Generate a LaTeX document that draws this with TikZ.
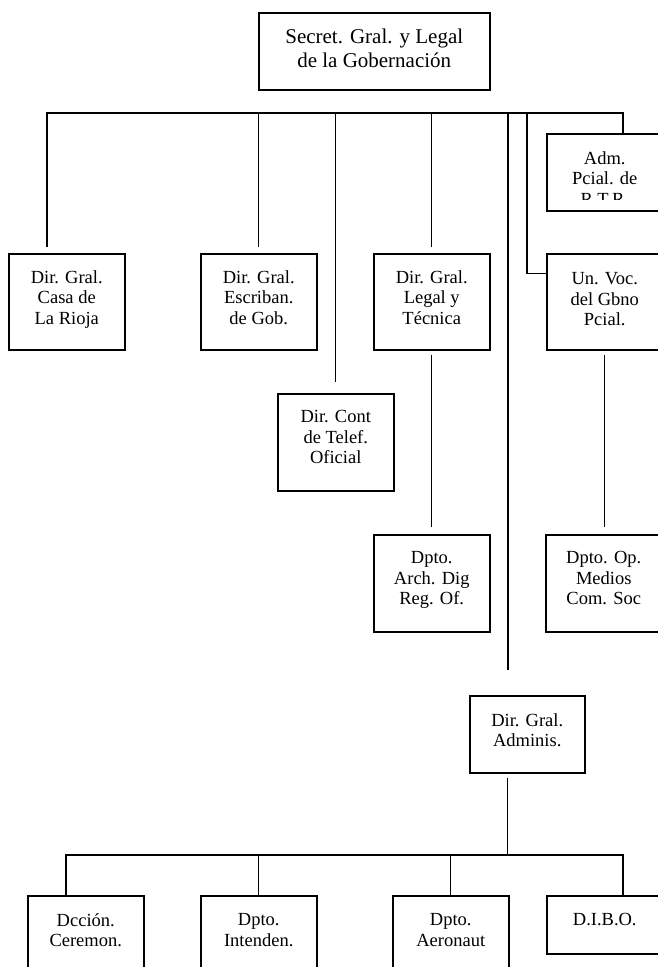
\documentclass[tikz,border=0pt]{standalone}
\usepackage{fontspec}
\setmainfont{Liberation Serif}
\begin{document}
\begin{tikzpicture}[x=1pt,y=-1pt,
  box/.style={draw, line width=1.5pt, inner sep=0pt, anchor=north west, minimum width=116pt, minimum height=96pt},
  lbl/.style={anchor=north, inner sep=0pt, align=center, font=\fontsize{18.5}{20.7}\selectfont},
  toplbl/.style={lbl, font=\fontsize{21}{24}\selectfont},
  conn/.style={line width=1.4pt}]
\useasboundingbox (0,0) rectangle (658,967);
\clip (0,0) rectangle (658,967);

% boxes
\node[box, minimum width=231pt, minimum height=77pt] (top) at (258,12) {};
\node[box] (casa) at (8,253) {};
\node[box] (esc) at (200,253) {};
\node[box] (legal) at (373,253) {};
\node[box] (unvoc) at (546,253) {};
\node[box, minimum height=77pt] (adm) at (546,133) {};
\node[box, minimum height=97pt] (cont) at (277,393) {};
\node[box, minimum height=97pt] (arch) at (373,534) {};
\node[box, minimum height=97pt] (medios) at (545,534) {};
\node[box, minimum width=115pt, minimum height=77pt] (admin) at (469,695) {};
\node[box, minimum height=100pt] (cer) at (27,895) {};
\node[box, minimum height=100pt] (int) at (200,895) {};
\node[box, minimum height=100pt] (aer) at (392,895) {};
\node[box, minimum height=58pt] (dibo) at (546,895) {};

% labels
\node[toplbl] (top-t) at ([yshift=-17pt]top.north) {Secret. Gral. y Legal\\de la Gobernación};
\node[lbl] (casa-t) at ([yshift=-17pt]casa.north) {Dir. Gral.\\Casa de\\La Rioja};
\node[lbl] (esc-t) at ([yshift=-17pt]esc.north) {Dir. Gral.\\Escriban.\\de Gob.};
\node[lbl] (legal-t) at ([yshift=-17pt]legal.north) {Dir. Gral.\\Legal y\\Técnica};
\node[lbl] (unvoc-t) at ([yshift=-19pt]unvoc.north) {Un. Voc.\\del Gbno\\Pcial.};
\begin{scope}
\clip (adm.north west) rectangle ([yshift=12pt]adm.south east);
\node[lbl] (adm-t) at ([yshift=-18pt]adm.north) {Adm.\\Pcial. de\\R.T.R.};
\end{scope}
\node[lbl] (cont-t) at ([yshift=-17pt]cont.north) {Dir. Cont\\de Telef.\\Oficial};
\node[lbl] (arch-t) at ([yshift=-17pt]arch.north) {Dpto.\\Arch. Dig\\Reg. Of.};
\node[lbl] (medios-t) at ([yshift=-17pt]medios.north) {Dpto. Op.\\Medios\\Com. Soc};
\node[lbl] (admin-t) at ([yshift=-18pt]admin.north) {Dir. Gral.\\Adminis.};
\node[lbl] (cer-t) at ([yshift=-18pt]cer.north) {Dcción.\\Ceremon.};
\node[lbl] (int-t) at ([yshift=-18pt]int.north) {Dpto.\\Intenden.};
\node[lbl] (aer-t) at ([yshift=-18pt]aer.north) {Dpto.\\Aeronaut};
\node[lbl] (dibo-t) at ([yshift=-18pt]dibo.north) {D.I.B.O.};

% upper tree
\coordinate (bL) at (47,113);
\coordinate (bR) at (623,113);
\coordinate (jVoc) at (527,113);
\coordinate (jAdm) at (508,113);
\coordinate (lead) at (508,670);
\draw[conn] ([shift={(39pt,6pt)}]casa.north west) -- (bL) -- (bR) -- (adm.north -| bR);
\draw[conn] ([yshift=6pt]esc.north) -- (esc.north |- bL);
\draw[conn] ([yshift=6pt]legal.north) -- (legal.north |- bL);
\draw[conn] ([yshift=11pt]cont.north) -- (cont.north |- bL);
\draw[conn] (jAdm) -- (lead);
\draw[conn] (jVoc) |- ([yshift=28pt]unvoc.west);
\draw[conn] ([yshift=-4pt]legal.south) -- ([yshift=7pt]arch.north);
\draw[conn] ([yshift=-4pt]unvoc.south) -- ([yshift=7pt]unvoc.south |- medios.north);

% lower tree
\coordinate (cL) at (66,855);
\coordinate (cR) at (623,855);
\draw[conn] ([xshift=39pt]cer.north west) -- (cL) -- (cR) -- (dibo.north -| cR);
\draw[conn] (int.north) -- (int.north |- cL);
\draw[conn] (aer.north) -- (aer.north |- cL);
\draw[conn] ([shift={(38.5pt,-4pt)}]admin.south west) -- ([xshift=38.5pt]admin.south west |- cL);
\end{tikzpicture}
\end{document}
